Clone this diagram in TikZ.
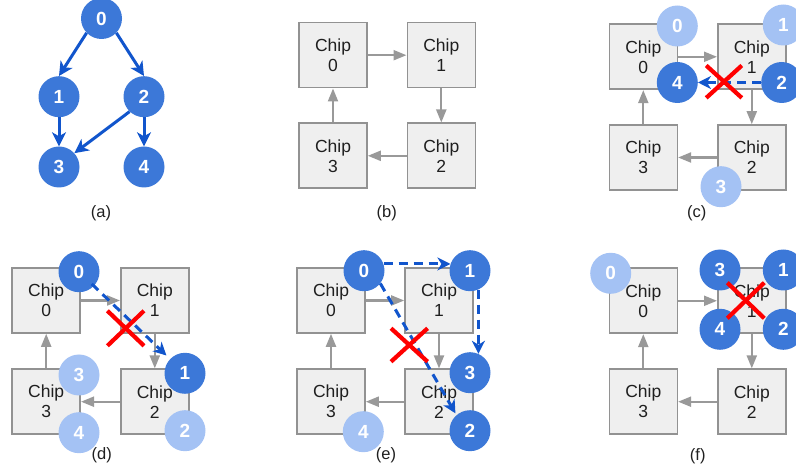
\documentclass[tikz,border=0pt]{standalone}
\usepackage{fontspec}
\setmainfont{Liberation Sans}
\usetikzlibrary{arrows.meta}
\definecolor{darkblue}{HTML}{3C78D8}
\definecolor{lightblue}{HTML}{A4C2F4}
\definecolor{linkblue}{HTML}{1155CC}
\definecolor{arrowgray}{HTML}{999999}
\definecolor{boxgray}{HTML}{929292}
\definecolor{boxfill}{HTML}{EFEFEF}
\definecolor{textgray}{HTML}{1F1F1F}
\tikzset{
  chipbox/.style={draw=boxgray, fill=boxfill, line width=1.6pt, minimum width=68pt, minimum height=65pt, inner sep=0pt, align=center, text=textgray, font=\fontsize{17.5}{20}\selectfont},
  darkc/.style={circle, fill=darkblue, minimum size=41pt, inner sep=0pt, text=white, font=\fontsize{19}{19}\selectfont\bfseries},
  lightc/.style={darkc, fill=lightblue},
  garrow/.style={draw=arrowgray, line width=2.1pt, -{Triangle[length=13pt,width=10pt]}},
  barrow/.style={draw=linkblue, line width=3pt, -{Stealth[length=14pt,width=14pt,inset=4pt]}},
  darrow/.style={draw=linkblue, line width=3pt, dash pattern=on 9pt off 6pt, -{Stealth[length=13pt,width=13pt,inset=4pt]}},
  redx/.style={draw=red, line width=4.2pt},
  caption/.style={text=textgray, font=\fontsize{16.5}{16.5}\selectfont},
}
\newcommand{\redcross}[3]{%
  \draw[redx] ([shift={(-#2,-#3)}]#1) -- ([shift={(#2,#3)}]#1);
  \draw[redx] ([shift={(-#2,#3)}]#1) -- ([shift={(#2,-#3)}]#1);}
\begin{document}
\begin{tikzpicture}[x=1pt,y=-1pt]
\useasboundingbox (0,0) rectangle (796,470);
\clip (0,0) rectangle (796,470);
% ---------- (a)
\node[darkc] (a0) at (101.5,18.5) {0};
\node[darkc] (a1) at (59,96.7) {1};
\node[darkc] (a2) at (144,96.7) {2};
\node[darkc] (a3) at (59,167) {3};
\node[darkc] (a4) at (144,167) {4};
\draw[barrow] (a0.-136) -- (a1.90);
\draw[barrow] (a0.-44) -- (a2.90);
\draw[barrow] (a1) -- (a3);
\draw[barrow] (a2) -- (a4);
\draw[barrow] (a2.-134) -- (a3.42);
\node[caption] (la) at (101,213) {(a)};
% ---------- (b)
\node[chipbox] (b0) at (333,55.2) {Chip\\0};
\node[chipbox] (b1) at (441.3,55.2) {Chip\\1};
\node[chipbox] (b2) at (441.3,155.8) {Chip\\2};
\node[chipbox] (b3) at (333,155.8) {Chip\\3};
\draw[garrow] (b0) -- (b1);
\draw[garrow] (b1) -- (b2);
\draw[garrow] (b2) -- (b3);
\draw[garrow] (b3) -- (b0);
\node[caption] (lb) at (386.7,213) {(b)};
% ---------- (c)
\node[chipbox] (c0) at (643.3,56.8) {Chip\\0};
\node[chipbox] (c1) at (751.8,56.8) {Chip\\1};
\node[chipbox] (c2) at (751.8,157.5) {Chip\\2};
\node[chipbox] (c3) at (643.3,157.5) {Chip\\3};
\draw[garrow] (c0) -- (c1);
\draw[garrow] (c1) -- (c2);
\draw[garrow] (c2) -- (c3);
\draw[garrow] (c3) -- (c0);
\node[lightc] (cl0) at (677.3,26) {0};
\node[lightc] (cl1) at (783.3,25) {1};
\node[darkc] (cd4) at (677.3,82.5) {4};
\node[darkc] (cd2) at (781.7,82.5) {2};
\node[lightc] (cl3) at (721,186.7) {3};
\draw[darrow] (cd2) -- (cd4);
\coordinate (cx) at (724,81.7);
\redcross{cx}{17.8}{16.2}
\node[caption] (lc) at (696.7,213.3) {(c)};
% ---------- (d)
\node[chipbox] (d0) at (46.2,300.5) {Chip\\0};
\node[chipbox] (d1) at (154.8,300.5) {Chip\\1};
\node[chipbox] (d2) at (154.8,401.7) {Chip\\2};
\node[chipbox] (d3) at (46.2,401.7) {Chip\\3};
\draw[garrow] (d0) -- (d1);
\draw[garrow] (d1) -- (d2);
\draw[garrow] (d2) -- (d3);
\draw[garrow] (d3) -- (d0);
\node[darkc] (dd0) at (79,271.7) {0};
\node[darkc] (dd1) at (185,373.3) {1};
\node[lightc] (dl3) at (79,375) {3};
\node[lightc] (dl4) at (79,432.7) {4};
\node[lightc] (dl2) at (185,430.7) {2};
\draw[darrow, shorten <=-3pt, shorten >=5pt] (dd0) -- (dd1);
\coordinate (dx) at (125.7,328.3);
\redcross{dx}{18.3}{17.5}
\node[caption] (ld) at (101.7,455.7) {(d)};
% ---------- (e)
\node[chipbox] (e0) at (331,300.5) {Chip\\0};
\node[chipbox] (e1) at (439,300.5) {Chip\\1};
\node[chipbox] (e2) at (439,401.7) {Chip\\2};
\node[chipbox] (e3) at (331,401.7) {Chip\\3};
\draw[garrow] (e0) -- (e1);
\draw[garrow] (e1) -- (e2);
\draw[garrow] (e2) -- (e3);
\draw[garrow] (e3) -- (e0);
\node[darkc] (ed0) at (364,270.7) {0};
\node[darkc] (ed1) at (470,270.7) {1};
\node[darkc] (ed3) at (470,372.7) {3};
\node[darkc] (ed2) at (470,430.7) {2};
\node[lightc] (el4) at (363.3,431.7) {4};
\draw[darrow] (ed0.19) -- (ed1.161);
\draw[darrow] (ed1.-66) -- (ed3.66);
\draw[darrow, shorten >=2pt] (ed0.-38) -- (ed2.131);
\coordinate (ex) at (409.3,345);
\redcross{ex}{18.3}{16.7}
\node[caption] (le) at (386,455.7) {(e)};
% ---------- (f)
\node[chipbox] (f0) at (643.3,300.8) {Chip\\0};
\node[chipbox] (f1) at (751.8,300.8) {Chip\\1};
\node[chipbox] (f2) at (751.8,401.7) {Chip\\2};
\node[chipbox] (f3) at (643.3,401.7) {Chip\\3};
\draw[garrow] (f0) -- (f1);
\draw[garrow] (f1) -- (f2);
\draw[garrow] (f2) -- (f3);
\draw[garrow] (f3) -- (f0);
\node[lightc] (fl0) at (610.7,273.3) {0};
\node[darkc] (fd3) at (720,270) {3};
\node[darkc] (fd1) at (783.3,270) {1};
\node[darkc] (fd4) at (720,329.3) {4};
\node[darkc] (fd2) at (783.3,329.3) {2};
\coordinate (fx) at (745.8,300.5);
\redcross{fx}{18.5}{17.8}
\node[caption] (lf) at (697.7,456) {(f)};
\end{tikzpicture}
\end{document}
